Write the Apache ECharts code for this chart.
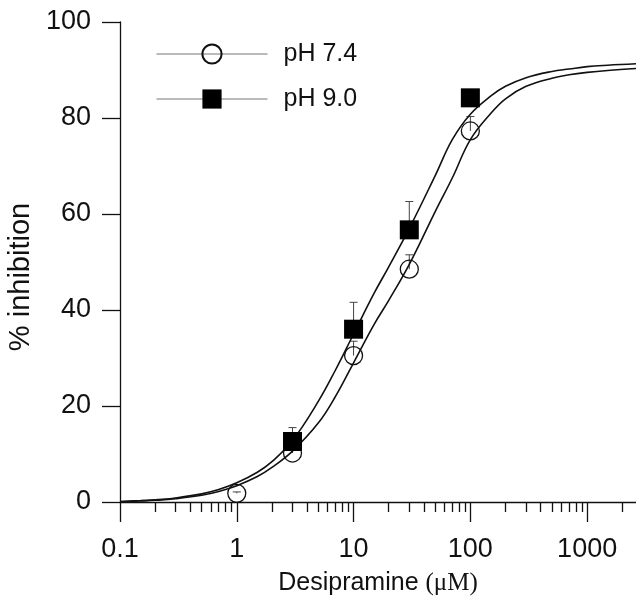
<!DOCTYPE html>
<html>
<head>
<meta charset="utf-8">
<script src="https://cdn.jsdelivr.net/npm/echarts@6/dist/echarts.min.js"></script>
<style>html,body{margin:0;padding:0;background:#fff}#c{width:636px;height:596px}</style>
</head>
<body>
<div id="c"></div>
<script>
// ---- data ----
var seriesNames = ['pH 7.4', 'pH 9.0'];
var xTickLabels = [0.1, 1, 10, 100, 1000];
var xMinorTicks = [0.2,0.3,0.4,0.5,0.6,0.7,0.8,0.9,2,3,4,5,6,7,8,9,20,30,40,50,60,70,80,90,200,300,400,500,600,700,800,900,2000];

var ptsX74 = [1, 3, 10, 30, 100];
var y74    = [1.8, 10.2, 30.5, 48.5, 77.3];
var sem74  = [0.3, 0.8, 3.0, 3.0, 3.0];

var ptsX90 = [3, 10, 30, 100];
var y90    = [12.6, 36.0, 56.7, 84.2];
var sem90  = [2.9, 5.6, 5.9, 1.0];

// fitted curves as drawn in the figure
var curveX  = [0.1,0.15,0.2,0.3,0.5,0.7,1,1.5,2,3,5,7,10,15,20,30,50,70,100,150,200,300,500,700,1000,1500,2620];
var curve74 = [0.05,0.2,0.35,0.7,1.4,2.2,3.4,5.3,7.2,10.6,16.5,22,29,37,42,49.5,60.5,67.5,75.5,81,84,86.6,88.3,89,89.5,89.9,90.3];
var curve90 = [0.1,0.3,0.45,0.85,1.7,2.6,4.0,6.2,8.4,12.8,21,27.5,35,43.5,49,57,68,75.5,80.8,84.6,86.6,88.4,89.7,90.2,90.7,91.0,91.3];

// ---- build ----
function zip(a, b) { return a.map(function (v, i) { return [v, b[i]]; }); }
function errData(x, y, s) { return x.map(function (v, i) { return [v, y[i], y[i] + s[i]]; }); }

var FONT = "'Liberation Sans', Arial, Helvetica, sans-serif";
var INK = '#111';

function errRender(params, api) {
  var x = api.value(0), y = api.value(1), hi = api.value(2);
  var p0 = api.coord([x, y]), p1 = api.coord([x, hi]);
  var w = 4;
  return {
    type: 'group',
    children: [
      { type: 'line', shape: { x1: p0[0], y1: p0[1], x2: p1[0], y2: p1[1] }, style: { stroke: '#444', lineWidth: 1 } },
      { type: 'line', shape: { x1: p1[0] - w, y1: p1[1], x2: p1[0] + w, y2: p1[1] }, style: { stroke: '#444', lineWidth: 1 } }
    ]
  };
}

var xBase = {
  type: 'log', logBase: 10, min: 0.1, max: 2620,
  gridIndex: 0, position: 'bottom',
  splitLine: { show: false }, minorTick: { show: false }, minorSplitLine: { show: false }
};

var chart = echarts.init(document.getElementById('c'), null, { renderer: 'canvas' });
chart.setOption({
  animation: false,
  backgroundColor: '#fff',
  grid: { left: 120, right: 0, top: 22, bottom: 94, containLabel: false, outerBoundsMode: 'none' },
  legend: {
    orient: 'vertical', left: 156, top: 41, padding: 0,
    itemWidth: 111, itemHeight: 24, itemGap: 19,
    textStyle: { fontSize: 25, fontFamily: FONT, color: INK, padding: [0, 0, 0, 11], lineHeight: 26 },
    lineStyle: { color: '#777', width: 1, opacity: 1 },
    data: seriesNames
  },
  xAxis: [
    Object.assign({}, xBase, {
      axisLine: { show: true, lineStyle: { color: INK, width: 1.3 } },
      axisTick: { show: true, inside: false, length: 10, customValues: xMinorTicks, lineStyle: { color: INK, width: 1.3 } },
      axisLabel: { show: false }
    }),
    Object.assign({}, xBase, {
      axisLine: { show: false },
      axisTick: { show: true, inside: false, length: 20, customValues: xTickLabels, lineStyle: { color: INK, width: 1.3 } },
      axisLabel: {
        show: true, customValues: xTickLabels, margin: 34,
        fontSize: 27, fontFamily: FONT, color: INK,
        formatter: function (v) { return String(Math.round(v * 10) / 10); }
      },
      name: 'Desipramine {s|(μM)}',
      nameLocation: 'middle', nameGap: 69,
      nameTextStyle: {
        fontSize: 25, fontFamily: FONT, color: INK,
        rich: { s: { fontSize: 25, fontFamily: "'Liberation Serif', 'Times New Roman', serif", color: INK } }
      }
    })
  ],
  yAxis: {
    type: 'value', min: 0, max: 100, interval: 20,
    axisLine: { show: true, lineStyle: { color: INK, width: 1.3 } },
    axisTick: { show: true, inside: false, length: 18, lineStyle: { color: INK, width: 1.3 } },
    axisLabel: { margin: 29, fontSize: 27, fontFamily: FONT, color: INK },
    splitLine: { show: false },
    name: '% inhibition', nameLocation: 'middle', nameGap: 77, nameRotate: 90,
    nameTextStyle: { fontSize: 29, fontFamily: FONT, color: INK, padding: [0, 30, 0, 0] }
  },
  series: [
    { name: 'fit 7.4', type: 'line', xAxisIndex: 0, data: zip(curveX, curve74), smooth: 0.4,
      showSymbol: false, lineStyle: { color: INK, width: 1.6 }, z: 3, silent: true },
    { name: 'fit 9.0', type: 'line', xAxisIndex: 0, data: zip(curveX, curve90), smooth: 0.4,
      showSymbol: false, lineStyle: { color: INK, width: 1.6 }, z: 3, silent: true },
    { name: 'err 7.4', type: 'custom', xAxisIndex: 0, renderItem: errRender, data: errData(ptsX74, y74, sem74), z: 2, silent: true },
    { name: 'err 9.0', type: 'custom', xAxisIndex: 0, renderItem: errRender, data: errData(ptsX90, y90, sem90), z: 2, silent: true },
    { name: seriesNames[0], type: 'line', xAxisIndex: 0, data: zip(ptsX74, y74),
      symbol: 'circle', symbolSize: 18, showSymbol: true,
      itemStyle: { color: 'rgba(255,255,255,0)', borderColor: INK, borderWidth: 1.3 },
      lineStyle: { width: 0, opacity: 0 }, z: 5 },
    { name: seriesNames[1], type: 'line', xAxisIndex: 0, data: zip(ptsX90, y90),
      symbol: 'rect', symbolSize: 19, showSymbol: true,
      itemStyle: { color: '#000', borderColor: '#000', borderWidth: 0 },
      lineStyle: { width: 0, opacity: 0 }, z: 6 }
  ]
});
</script>
</body>
</html>
